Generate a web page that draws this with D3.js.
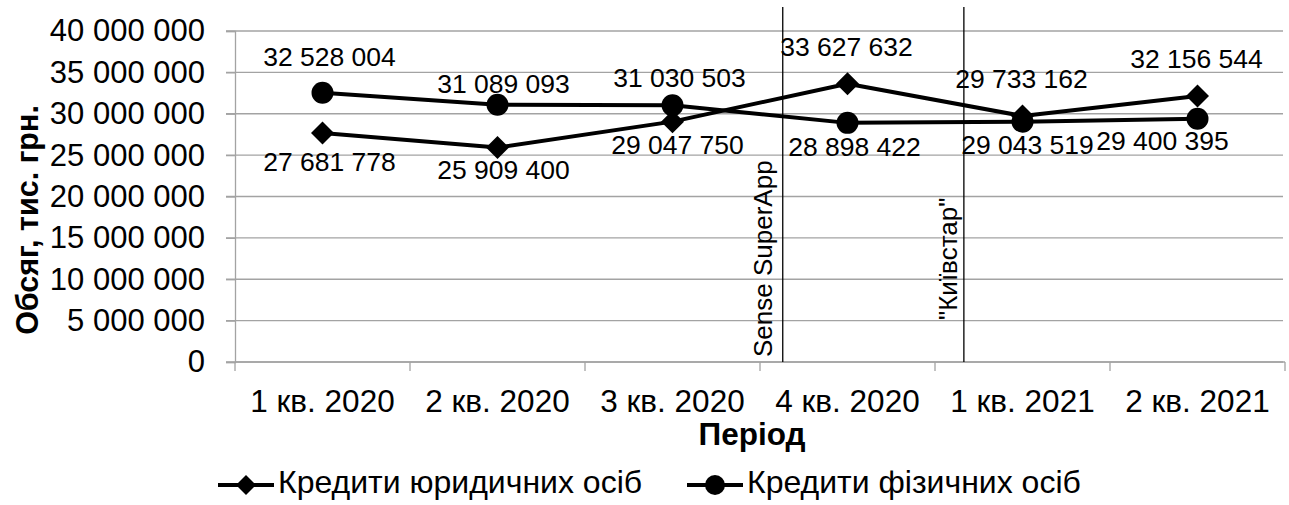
<!DOCTYPE html>
<html>
<head>
<meta charset="utf-8">
<script src="https://cdn.jsdelivr.net/npm/d3@7"></script>
<style>
  html, body { margin: 0; padding: 0; background: #fff; }
  svg { display: block; font-family: "Liberation Sans", Arial, sans-serif; }
</style>
</head>
<body>
<svg id="chart" width="1289" height="505"></svg>
<script>
// Quarterly loan volumes, thousand UAH
const quarters = ["1 кв. 2020", "2 кв. 2020", "3 кв. 2020", "4 кв. 2020", "1 кв. 2021", "2 кв. 2021"];
const legalLoans = [27681778, 25909400, 29047750, 33627632, 29733162, 32156544];
const personalLoans = [32528004, 31089093, 31030503, 28898422, 29043519, 29400395];
const yTicks = [0, 5000000, 10000000, 15000000, 20000000, 25000000, 30000000, 35000000, 40000000];
const seriesNames = ["Кредити юридичних осіб", "Кредити фізичних осіб"];

// Events marked on the timeline (position in quarters from the start of 2020)
const eventNames = ["Sense SuperApp", "\"Київстар\""];
const eventAt = [3.13, 4.165];
// Caption placement beside each event line: [gap left of line, lift above x axis]
const eventCaptionOffsets = [[11, 5], [7, 42]];

// Label placement relative to each marker: [dx, dy of text centre]
const legalLabelOffsets = [[7, 29], [6, 22], [5, 23], [-1, -37], [-1, -37], [-1, -37]];
const personalLabelOffsets = [[7, -36], [6, -21], [7, -28], [7, 24], [5, 23], [-35, 22]];

const svg = d3.select("#chart");
const fmt = d3.formatLocale({ decimal: ",", thousands: " ", grouping: [3], currency: ["", ""] }).format(",d");

const plotLeft = 235, plotRight = 1285, plotTop = 31, plotBottom = 362;
const gridColor = "#a3a3a3";
const x = d3.scaleBand().domain(quarters).range([plotLeft, plotRight]).padding(0);
const xq = d3.scaleLinear().domain([0, quarters.length]).range([plotLeft, plotRight]);
const y = d3.scaleLinear().domain([0, 40000000]).range([plotBottom, plotTop]);
const cx = q => x(q) + x.bandwidth() / 2;

// Horizontal gridlines
svg.append("g")
  .selectAll("line")
  .data(yTicks)
  .join("line")
  .attr("x1", plotLeft - 9).attr("x2", plotRight - 2)
  .attr("y1", d => y(d)).attr("y2", d => y(d))
  .attr("stroke", gridColor).attr("stroke-width", 1.3);

// Y axis
const yAxis = svg.append("g")
  .attr("transform", `translate(${plotLeft},0)`)
  .call(d3.axisLeft(y).tickValues(yTicks).tickFormat(fmt).tickSize(9).tickPadding(21));
yAxis.select(".domain").attr("stroke", gridColor).attr("stroke-width", 1.3);
yAxis.selectAll(".tick line").attr("stroke", gridColor).attr("stroke-width", 1.3);
yAxis.selectAll(".tick text")
  .attr("font-size", 31).attr("fill", "#000")
  .attr("font-family", "Liberation Sans, Arial, sans-serif");

// X axis: category labels centred in each band, ticks at band edges
const xAxis = svg.append("g")
  .attr("transform", `translate(0,${plotBottom})`)
  .call(d3.axisBottom(x).tickSize(0).tickPadding(0));
xAxis.select(".domain").remove();
xAxis.selectAll(".tick text")
  .attr("y", 50).attr("dy", null)
  .attr("font-size", 31.5).attr("fill", "#000")
  .attr("font-family", "Liberation Sans, Arial, sans-serif");
svg.append("line")
  .attr("x1", plotLeft).attr("x2", plotRight).attr("y1", plotBottom).attr("y2", plotBottom)
  .attr("stroke", gridColor).attr("stroke-width", 1.3);
svg.append("g")
  .selectAll("line")
  .data(d3.range(quarters.length + 1))
  .join("line")
  .attr("x1", d => xq(d)).attr("x2", d => xq(d))
  .attr("y1", plotBottom).attr("y2", plotBottom + 9)
  .attr("stroke", gridColor).attr("stroke-width", 1.3);

// Axis titles
svg.append("text")
  .attr("x", 752).attr("y", 445)
  .attr("text-anchor", "middle")
  .attr("font-size", 31.5).attr("font-weight", "bold")
  .text("Період");
svg.append("text")
  .attr("transform", "translate(38,220) rotate(-90)")
  .attr("text-anchor", "middle")
  .attr("font-size", 30.5).attr("font-weight", "bold")
  .text("Обсяг, тис. грн.");

// Event markers
eventNames.forEach((name, i) => {
  const ex = xq(eventAt[i]);
  const [gap, lift] = eventCaptionOffsets[i];
  svg.append("line")
    .attr("x1", ex).attr("x2", ex).attr("y1", 7).attr("y2", plotBottom)
    .attr("stroke", "#000").attr("stroke-width", 1.3);
  svg.append("text")
    .attr("transform", `translate(${ex - gap},${plotBottom - lift}) rotate(-90)`)
    .attr("font-size", 26)
    .text(name);
});

// Series lines
const line = d3.line().x((d, i) => cx(quarters[i])).y(d => y(d));
[legalLoans, personalLoans].forEach(vals => {
  svg.append("path")
    .datum(vals)
    .attr("d", line)
    .attr("fill", "none").attr("stroke", "#000").attr("stroke-width", 4)
    .attr("stroke-linejoin", "round");
});

// Markers
const diamond = s => `M0,${-s}L${s},0L0,${s}L${-s},0Z`;
svg.append("g").selectAll("path")
  .data(legalLoans)
  .join("path")
  .attr("transform", (d, i) => `translate(${cx(quarters[i])},${y(d)})`)
  .attr("d", diamond(11.5))
  .attr("fill", "#000");
svg.append("g").selectAll("circle")
  .data(personalLoans)
  .join("circle")
  .attr("cx", (d, i) => cx(quarters[i])).attr("cy", d => y(d))
  .attr("r", 11)
  .attr("fill", "#000");

// Value labels
function addLabels(vals, offsets) {
  svg.append("g").selectAll("text")
    .data(vals)
    .join("text")
    .attr("x", (d, i) => cx(quarters[i]) + offsets[i][0])
    .attr("y", (d, i) => y(d) + offsets[i][1] + 9.5)
    .attr("text-anchor", "middle")
    .attr("font-size", 26.5)
    .text(d => fmt(d));
}
addLabels(legalLoans, legalLabelOffsets);
addLabels(personalLoans, personalLabelOffsets);

// Legend
const legend = svg.append("g");
const legendItems = [
  { name: seriesNames[0], x0: 218, x1: 274, shape: "diamond" },
  { name: seriesNames[1], x0: 687, x1: 743, shape: "circle" }
];
legendItems.forEach(it => {
  const ly = 485;
  legend.append("line")
    .attr("x1", it.x0).attr("x2", it.x1).attr("y1", ly).attr("y2", ly)
    .attr("stroke", "#000").attr("stroke-width", 4);
  const mx = (it.x0 + it.x1) / 2;
  if (it.shape === "diamond") {
    legend.append("path").attr("transform", `translate(${mx},${ly})`).attr("d", diamond(10)).attr("fill", "#000");
  } else {
    legend.append("circle").attr("cx", mx).attr("cy", ly).attr("r", 10).attr("fill", "#000");
  }
  legend.append("text")
    .attr("x", it.x1 + 4).attr("y", 493)
    .attr("font-size", 32)
    .text(it.name);
});
</script>
</body>
</html>
